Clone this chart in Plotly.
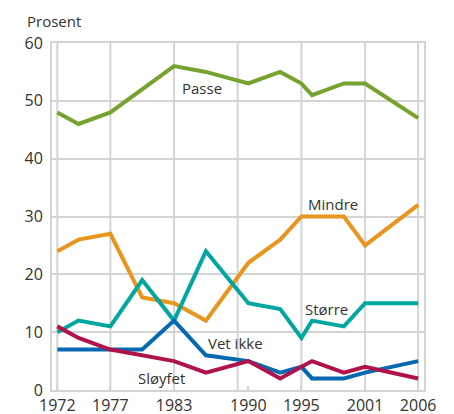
import plotly.graph_objects as go

years = [1972, 1974, 1977, 1980, 1983, 1986, 1990, 1993, 1995, 1996, 1999, 2001, 2006]
passe = [48, 46, 48, 52, 56, 55, 53, 55, 53, 51, 53, 53, 47]
mindre = [24, 26, 27, 16, 15, 12, 22, 26, 30, 30, 30, 25, 32]
storre = [10, 12, 11, 19, 12, 24, 15, 14, 9, 12, 11, 15, 15]
vet_ikke = [7, 7, 7, 7, 12, 6, 5, 3, 4, 2, 2, 3, 5]
sloyfet = [11, 9, 7, 6, 5, 3, 5, 2, 4, 5, 3, 4, 2]

tick_years = [1972, 1977, 1983, 1990, 1995, 2001, 2006]
grid_years = [1972, 1977, 1983, 1989, 1995, 2001, 2006]
y_ticks = [0, 10, 20, 30, 40, 50, 60]

series = [
    ("Passe", passe, "#76a22f", 1985.6, 52.2),
    ("Mindre", mindre, "#e8961f", 1998.0, 32.2),
    ("Større", storre, "#00a7a0", 1997.4, 14.0),
    ("Vet ikke", vet_ikke, "#0569b0", 1988.8, 8.1),
    ("Sløyfet", sloyfet, "#b0124c", 1981.8, 2.1),
]

FONT = "Open Sans"
TXT = "#333333"
GRID = "#d4d4d4"

fig = go.Figure()
for name, vals, col, lx, ly in series:
    fig.add_trace(go.Scatter(x=years, y=vals, mode="lines", name=name,
                             line=dict(color=col, width=4), showlegend=False))
    fig.add_annotation(x=lx, y=ly, text=name, showarrow=False,
                       font=dict(family=FONT, size=15, color=TXT),
                       xanchor="center", yanchor="middle")

for gy in grid_years:
    fig.add_shape(type="line", x0=gy, x1=gy, y0=0, y1=60, xref="x", yref="y",
                  line=dict(color=GRID, width=2), layer="below")

fig.add_annotation(x=0, y=1, xref="paper", yref="paper", text="Prosent",
                   showarrow=False, xanchor="left", yanchor="middle",
                   xshift=-27, yshift=22,
                   font=dict(family=FONT, size=15, color=TXT))

fig.update_layout(
    width=446, height=406,
    margin=dict(l=44, r=30, t=35, b=24),
    paper_bgcolor="white", plot_bgcolor="white",
    font=dict(family=FONT, size=16, color=TXT),
)
fig.update_xaxes(range=[1971.5, 2006.55], tickvals=tick_years,
                 ticktext=[str(t) for t in tick_years], automargin=False,
                 showgrid=False, zeroline=False, showline=True, mirror=True,
                 linecolor=GRID, linewidth=2, ticks="inside", ticklen=4,
                 tickcolor=GRID, tickwidth=2,
                 tickfont=dict(family=FONT, size=16, color=TXT))
fig.update_yaxes(range=[0, 60], tickvals=y_ticks, showgrid=True, automargin=False,
                 gridcolor=GRID, gridwidth=2, zeroline=False, showline=True,
                 mirror=True, linecolor=GRID, linewidth=2, ticks="",
                 ticklabelstandoff=4,
                 tickfont=dict(family=FONT, size=16, color=TXT))

fig.write_html("out.html")
